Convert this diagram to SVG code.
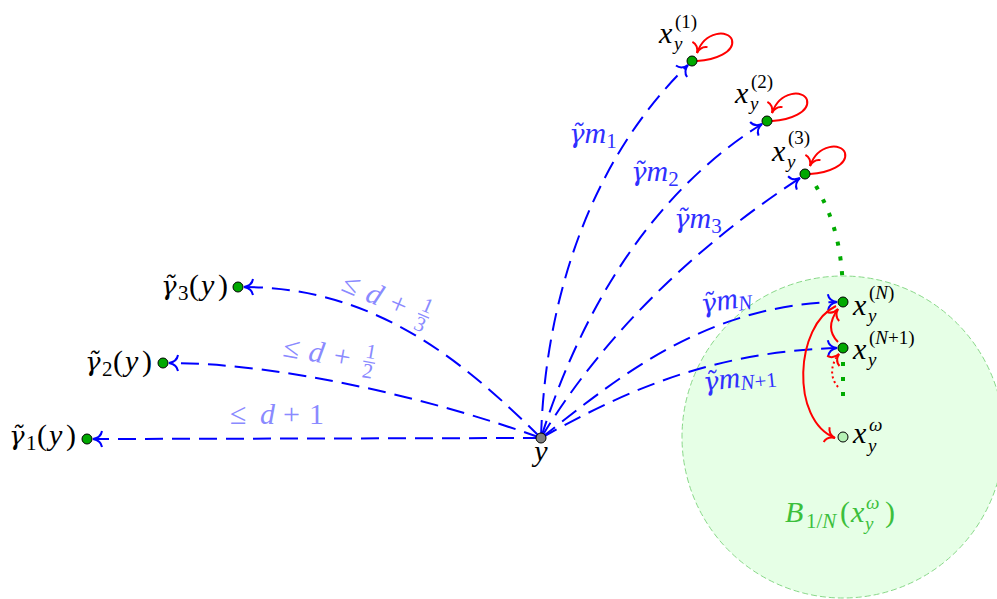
<svg xmlns="http://www.w3.org/2000/svg" width="997" height="599" viewBox="0 0 997 599">
<defs>
<style>
text{font-family:"Liberation Serif","Times New Roman",serif;font-size:30px;fill:#000}
.i{font-style:italic}
.s{font-size:21px}
.ss{font-size:19px}
.gt{font-family:"DejaVu Serif",serif;font-size:26px;font-style:italic}
.blab{fill:#3030ff}
.lab{fill:#8a8aff}
.blue{fill:none;stroke:#0000ff;stroke-width:2;stroke-dasharray:18 9;marker-end:url(#ab)}
.red{fill:none;stroke:#ff0000;stroke-width:2;marker-end:url(#ar)}
.dots{fill:none;stroke:#00aa00;stroke-width:4;stroke-dasharray:4 11}
.node{stroke:#000;stroke-width:1}
.g{fill:#00a800}
</style>
<marker id="ab" markerUnits="userSpaceOnUse" markerWidth="20" markerHeight="20" refX="0" refY="0" viewBox="-10 -10 20 20" orient="auto" overflow="visible">
<path d="M-9,-8 C-8,-2 -3,-0.5 0,0 C-3,0.5 -8,2 -9,8" fill="none" stroke="#0000ff" stroke-width="2" stroke-dasharray="none"/>
</marker>
<marker id="ar" markerUnits="userSpaceOnUse" markerWidth="20" markerHeight="20" refX="0" refY="0" viewBox="-10 -10 20 20" orient="auto" overflow="visible">
<path d="M-9,-8 C-8,-2 -3,-0.5 0,0 C-3,0.5 -8,2 -9,8" fill="none" stroke="#ff0000" stroke-width="2" stroke-dasharray="none"/>
</marker>
</defs>
<rect width="997" height="599" fill="#fff"/>
<g id="dots-upper">
<path class="dots" d="M816,186 C832,215 843,245 843,300"/>
</g>
<g id="ball">
<circle cx="843" cy="437" r="161" fill="#e6ffe6" stroke="#88d888" stroke-width="1" stroke-dasharray="6 3"/>
<text style="fill:#3cbf3c"><tspan x="785" y="522" class="i">B</tspan><tspan x="806" y="528" class="s">1/</tspan><tspan class="s i">N</tspan><tspan x="840" y="522">(</tspan><tspan x="851" y="522" class="i">x</tspan><tspan x="865" y="530" class="ss i">y</tspan><tspan x="866" y="509" class="ss i">ω</tspan><tspan x="885" y="522">)</tspan></text>
</g>
<g id="connectors">
<path class="blue" d="M541,438 L93,439"/>
<path class="blue" d="M541,438 C430,398 280,363 169,363"/>
<path class="blue" d="M541,438 C470,368 380,287 244,287"/>
<path class="blue" d="M541,438 C545,300 590,160 688,65"/>
<path class="blue" d="M541,438 C575,330 640,200 762,124"/>
<path class="blue" d="M541,438 C600,340 690,250 800,178"/>
<path class="blue" d="M541,438 C610,385 700,305 837,302"/>
<path class="blue" d="M541,438 C610,400 700,352 837,348"/>
<path class="dots" d="M843,362 L843,402"/>
<path class="red" d="M697,61 C715,60 735,52 732,40 C729,30 705,30 697,53"/>
<path class="red" d="M772,121 C790,120 810,112 807,100 C804,90 780,90 772,113"/>
<path class="red" d="M810,174 C828,173 848,165 845,153 C842,143 818,143 810,166"/>
<path class="red" d="M836,306 C795,325 790,420 835,438"/>
<path class="red" d="M838,342 C828,332 830,320 838,309"/>
<path class="red" d="M838,387 C830,378 830,365 839,354" stroke-dasharray="2 3"/>
<text class="lab"><tspan x="230" y="424">≤</tspan><tspan x="260" y="424" class="i">d</tspan><tspan x="283" y="424">+</tspan><tspan x="309" y="424">1</tspan></text>
<g transform="translate(282,356) rotate(10)">
<text class="lab"><tspan x="0" y="0">≤</tspan><tspan x="26" y="0" class="i">d</tspan><tspan x="51" y="0">+</tspan><tspan x="87" y="-13" class="s" text-anchor="middle">1</tspan><tspan x="87" y="7" class="s" text-anchor="middle">2</tspan></text>
<line x1="81" y1="-9" x2="93" y2="-9" stroke="#8a8aff" stroke-width="1.3"/>
</g>
<g transform="translate(340,290) rotate(23)">
<text class="lab"><tspan x="0" y="0">≤</tspan><tspan x="26" y="0" class="i">d</tspan><tspan x="51" y="0">+</tspan><tspan x="87" y="-13" class="s" text-anchor="middle">1</tspan><tspan x="87" y="7" class="s" text-anchor="middle">3</tspan></text>
<line x1="81" y1="-9" x2="93" y2="-9" stroke="#8a8aff" stroke-width="1.3"/>
</g>
<text class="blab" x="569" y="143"><tspan class="gt">γ̃</tspan><tspan class="i">m</tspan><tspan class="s" dy="5">1</tspan></text>
<text class="blab" x="631" y="181"><tspan class="gt">γ̃</tspan><tspan class="i">m</tspan><tspan class="s" dy="5">2</tspan></text>
<text class="blab" x="674" y="228"><tspan class="gt">γ̃</tspan><tspan class="i">m</tspan><tspan class="s" dy="5">3</tspan></text>
<text class="blab" transform="translate(702,313) rotate(-8)"><tspan class="gt">γ̃</tspan><tspan class="i">m</tspan><tspan class="s i" dy="3">N</tspan></text>
<text class="blab" transform="translate(704,391) rotate(-6)"><tspan class="gt">γ̃</tspan><tspan class="i">m</tspan><tspan class="s i" dy="3">N</tspan><tspan class="s">+1</tspan></text>
</g>
<g id="node-y">
<circle cx="541" cy="438" r="5" fill="#808080" class="node"/>
<text x="541" y="461" class="i" text-anchor="middle">y</text>
</g>
<g id="node-g1">
<circle cx="87" cy="439" r="5" class="node g"/>
<text><tspan x="9" y="445" class="gt">γ̃</tspan><tspan x="26" y="450" class="s">1</tspan><tspan x="37" y="445">(</tspan><tspan x="49" y="445" class="i">y</tspan><tspan x="66" y="445">)</tspan></text>
</g>
<g id="node-g2">
<circle cx="163" cy="363" r="5" class="node g"/>
<text><tspan x="85" y="371" class="gt">γ̃</tspan><tspan x="102" y="376" class="s">2</tspan><tspan x="113" y="371">(</tspan><tspan x="125" y="371" class="i">y</tspan><tspan x="142" y="371">)</tspan></text>
</g>
<g id="node-g3">
<circle cx="238" cy="287" r="5" class="node g"/>
<text><tspan x="161" y="295" class="gt">γ̃</tspan><tspan x="178" y="300" class="s">3</tspan><tspan x="189" y="295">(</tspan><tspan x="201" y="295" class="i">y</tspan><tspan x="218" y="295">)</tspan></text>
</g>
<g id="node-x1">
<circle cx="692" cy="61" r="5" class="node g"/>
<text><tspan x="659" y="43" class="i">x</tspan><tspan x="674" y="50" class="ss i">y</tspan><tspan x="675" y="28" class="ss">(1)</tspan></text>
</g>
<g id="node-x2">
<circle cx="767" cy="121" r="5" class="node g"/>
<text><tspan x="735" y="103" class="i">x</tspan><tspan x="750" y="110" class="ss i">y</tspan><tspan x="751" y="88" class="ss">(2)</tspan></text>
</g>
<g id="node-x3">
<circle cx="805" cy="174" r="5" class="node g"/>
<text><tspan x="772" y="161" class="i">x</tspan><tspan x="787" y="168" class="ss i">y</tspan><tspan x="788" y="144" class="ss">(3)</tspan></text>
</g>
<g id="node-xN">
<circle cx="843" cy="302" r="5" class="node g"/>
<text><tspan x="853" y="315" class="i">x</tspan><tspan x="868" y="322" class="ss i">y</tspan><tspan x="869" y="299" class="ss">(</tspan><tspan class="ss i">N</tspan><tspan class="ss">)</tspan></text>
</g>
<g id="node-xN1">
<circle cx="843" cy="348" r="5" class="node g"/>
<text><tspan x="853" y="359" class="i">x</tspan><tspan x="868" y="366" class="ss i">y</tspan><tspan x="869" y="344" class="ss">(</tspan><tspan class="ss i">N</tspan><tspan class="ss">+1)</tspan></text>
</g>
<g id="node-xw">
<circle cx="843" cy="437" r="5" fill="#b5f2b5" class="node"/>
<text><tspan x="853" y="443" class="i">x</tspan><tspan x="868" y="452" class="ss i">y</tspan><tspan x="869" y="431" class="ss i">ω</tspan></text>
</g>
</svg>
